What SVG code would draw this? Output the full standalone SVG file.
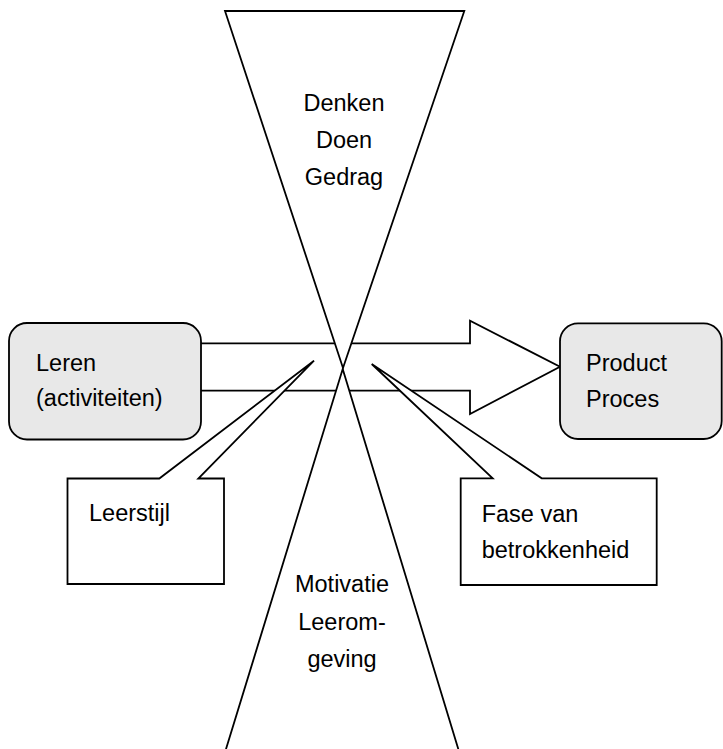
<svg xmlns="http://www.w3.org/2000/svg" width="723" height="749" viewBox="0 0 723 749">
<style>
.shape{fill:#fff;stroke:#000;stroke-width:1.8;stroke-linejoin:miter}
.box{fill:#e8e8e8;stroke:#000;stroke-width:1.8}
text{font-family:"Liberation Sans",Arial,sans-serif;font-size:23.5px;fill:#000}
.c{text-anchor:middle}
</style>
<rect width="723" height="749" fill="#fff"/>
<g id="connectors">
<path id="arrow" class="shape" d="M200,343.3 H470 V320.7 L560,366.7 L470,414 V390.7 H200 Z"/>
</g>
<g id="top-funnel">
<path class="shape" d="M225,11 H464.3 L343,368 Z"/>
<text class="c" x="344" y="111">Denken</text>
<text class="c" x="344" y="148">Doen</text>
<text class="c" x="344" y="185">Gedrag</text>
</g>
<g id="bottom-funnel">
<path class="shape" d="M342.7,369 L459.2,752 H225.1 Z"/>
<text class="c" x="342" y="592">Motivatie</text>
<text class="c" x="342" y="630">Leerom-</text>
<text class="c" x="342" y="667">geving</text>
</g>
<g id="leren">
<rect class="box" x="9" y="323" width="192" height="116.5" rx="18" ry="18"/>
<text x="36" y="371">Leren</text>
<text x="36" y="406">(activiteiten)</text>
</g>
<g id="product">
<rect class="box" x="560" y="323.3" width="161.7" height="115.7" rx="18" ry="18"/>
<text x="586" y="371">Product</text>
<text x="586" y="407">Proces</text>
</g>
<g id="leerstijl">
<path class="shape" d="M67.5,478.5 H159.3 L314,360.7 L198.3,478.5 H224 V584 H67.5 Z"/>
<text x="89" y="521">Leerstijl</text>
</g>
<g id="fase">
<path class="shape" d="M460.7,478.3 H492.7 L371.7,364 L541.7,478.3 H656.7 V585 H460.7 Z"/>
<text x="481.7" y="521.7">Fase van</text>
<text x="481.7" y="558">betrokkenheid</text>
</g>
</svg>
